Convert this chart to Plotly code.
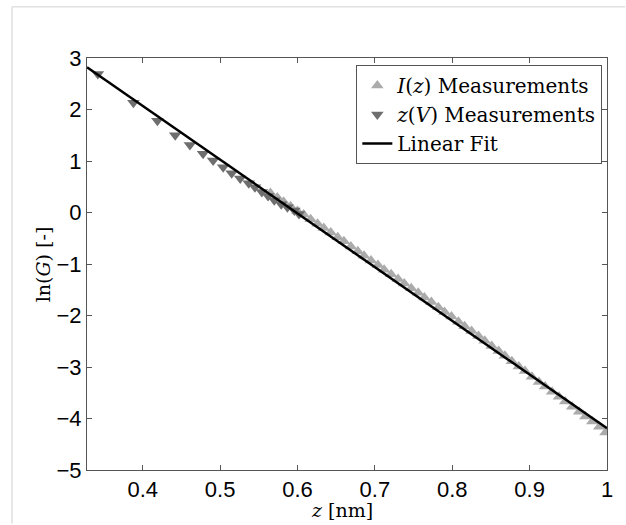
import plotly.graph_objects as go

# z(V) measurements (downward triangles)
zv_z = [0.342, 0.388, 0.419, 0.442, 0.461, 0.478, 0.491, 0.504, 0.515, 0.526,
        0.537, 0.545, 0.554, 0.562, 0.570, 0.579, 0.587, 0.596, 0.602]
zv_lnG = [2.69, 2.13, 1.78, 1.50, 1.31, 1.14, 1.01, 0.88, 0.76, 0.66,
          0.57, 0.49, 0.40, 0.32, 0.24, 0.16, 0.10, 0.04, -0.03]

# I(z) measurements (upward triangles)
iz_z = [0.565, 0.574, 0.582, 0.591, 0.600, 0.608, 0.617, 0.626, 0.634, 0.643,
        0.652, 0.660, 0.669, 0.678, 0.686, 0.695, 0.704, 0.712, 0.721, 0.730,
        0.738, 0.747, 0.756, 0.764, 0.773, 0.782, 0.790, 0.799, 0.808, 0.816,
        0.825, 0.834, 0.842, 0.851, 0.860, 0.868, 0.877, 0.886, 0.894, 0.903,
        0.912, 0.920, 0.929, 0.938, 0.946, 0.955, 0.964, 0.972, 0.981, 0.990,
        0.998]
iz_lnG = [0.38, 0.29, 0.21, 0.12, 0.03, -0.04, -0.13, -0.22, -0.30, -0.39,
          -0.48, -0.56, -0.66, -0.75, -0.84, -0.93, -1.02, -1.11, -1.20, -1.29,
          -1.38, -1.47, -1.56, -1.65, -1.74, -1.84, -1.93, -2.02, -2.12, -2.21,
          -2.30, -2.40, -2.49, -2.59, -2.69, -2.78, -2.89, -2.99, -3.08, -3.19,
          -3.29, -3.38, -3.48, -3.58, -3.67, -3.77, -3.87, -3.96, -4.06, -4.16,
          -4.27]

# Linear fit
fit_z = [0.328, 1.0]
fit_lnG = [2.82, -4.19]

x_ticks = [0.4, 0.5, 0.6, 0.7, 0.8, 0.9, 1.0]
y_ticks = [-5, -4, -3, -2, -1, 0, 1, 2, 3]

serif = "DejaVu Serif, Liberation Serif, serif"
sans = "Liberation Sans, Arial, sans-serif"

fig = go.Figure()
fig.add_trace(go.Scatter(
    x=iz_z, y=iz_lnG, mode="markers", name="<i>I</i>(<i>z</i>) Measurements",
    marker=dict(symbol="triangle-up", size=11, color="#ababab"),
))
fig.add_trace(go.Scatter(
    x=zv_z, y=zv_lnG, mode="markers", name="<i>z</i>(<i>V</i>) Measurements",
    marker=dict(symbol="triangle-down", size=11, color="#6e6e6e"),
))
fig.add_trace(go.Scatter(
    x=fit_z, y=fit_lnG, mode="lines", name="Linear Fit",
    line=dict(color="black", width=2.5),
))

axis_common = dict(
    showgrid=False, zeroline=False, showline=True, linecolor="#555555",
    linewidth=1, mirror="ticks", ticks="inside", ticklen=5, tickcolor="#555555",
    tickfont=dict(family=sans, size=22, color="black"),
)

fig.update_layout(
    width=626, height=525,
    margin=dict(l=87, r=19, t=58, b=55),
    paper_bgcolor="white", plot_bgcolor="white",
    xaxis=dict(range=[0.328, 1.0], tickvals=x_ticks, **axis_common),
    yaxis=dict(range=[-5, 3], tickvals=y_ticks, **axis_common),
    legend=dict(x=0.991, y=0.983, xanchor="right", yanchor="top",
                bgcolor="white", bordercolor="#555555", borderwidth=1,
                font=dict(family=serif, size=20, color="black"),
                tracegroupgap=0, itemwidth=30),
    showlegend=True,
    annotations=[
        dict(text="<i>z</i> [nm]", xref="paper", yref="paper", x=0.49, y=-0.097,
             xanchor="center", yanchor="middle", showarrow=False,
             font=dict(family=serif, size=19, color="black")),
        dict(text="ln(<i>G</i>) [-]", xref="paper", yref="paper", x=-0.084, y=0.5,
             xanchor="center", yanchor="middle", showarrow=False, textangle=-90,
             font=dict(family=serif, size=19, color="black")),
    ],
    shapes=[
        dict(type="line", xref="paper", yref="paper", x0=-0.1442, x1=1.035, y0=1.1245, y1=1.1245,
             line=dict(color="#e0e0e0", width=1.5)),
        dict(type="line", xref="paper", yref="paper", x0=-0.1442, x1=-0.1442, y0=1.1245, y1=-0.13,
             line=dict(color="#e0e0e0", width=1.5)),
    ],
)

fig.write_html(
    "out.html",
    config={"displayModeBar": False},
    post_script="document.body.style.margin='0';document.body.style.overflow='hidden';",
)
